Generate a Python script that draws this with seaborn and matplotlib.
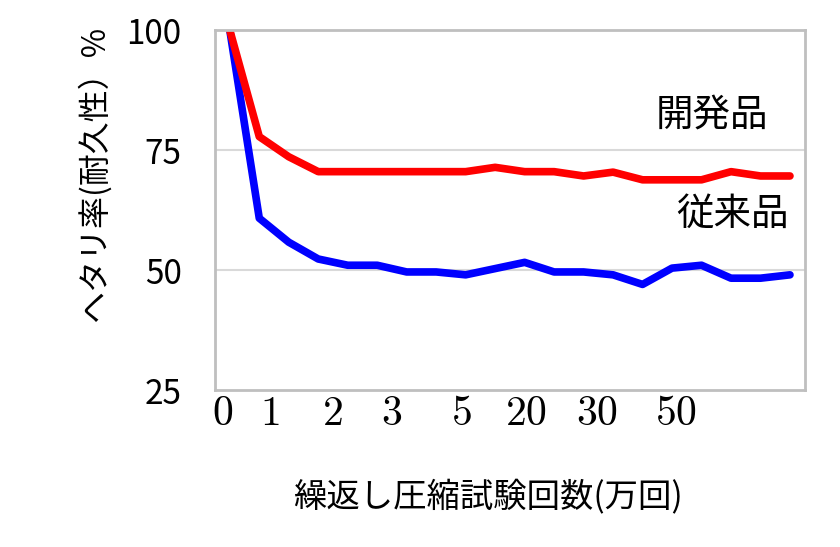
import numpy as np
import pandas as pd
import seaborn as sns
import matplotlib
matplotlib.use('Agg')
import matplotlib.pyplot as plt

# data (ヘタリ率 %)
kaihatsu = [100, 77.8, 73.6, 70.5, 70.5, 70.5, 70.5, 70.5, 70.5, 71.4, 70.5,
            70.5, 69.6, 70.4, 68.8, 68.8, 68.8, 70.5, 69.6, 69.6]
juurai = [100, 60.8, 55.8, 52.3, 51.0, 51.0, 49.6, 49.6, 49.0, 50.3, 51.6,
          49.6, 49.6, 49.0, 47.0, 50.4, 51.0, 48.3, 48.3, 49.0]
tick_pos = [-0.26, 1.36, 3.47, 5.5, 7.85, 10.05, 12.45, 15.15]
tick_labels = ['0', '1', '2', '3', '5', '20', '30', '50']
y_ticks = [25, 50, 75, 100]

df = pd.DataFrame({'step': np.arange(len(kaihatsu)),
                   '開発品': kaihatsu, '従来品': juurai})

sns.set_theme(style='white')
plt.rcParams['font.family'] = ['Noto Sans CJK JP', 'DejaVu Sans']
plt.rcParams['mathtext.fontset'] = 'cm'
plt.rcParams['text.color'] = 'black'
plt.rcParams['xtick.color'] = 'black'
plt.rcParams['ytick.color'] = 'black'
plt.rcParams['axes.labelcolor'] = 'black'

fig = plt.figure(figsize=(8.4, 5.47), dpi=100)
ax = fig.add_axes([0.256, 0.287, 0.702, 0.658])

sns.lineplot(data=df, x='step', y='従来品', color='#0000ff', lw=5.5, ax=ax)
sns.lineplot(data=df, x='step', y='開発品', color='#ff0000', lw=5.5, ax=ax)

ax.set_xlim(-0.5, 19.5)
ax.set_ylim(25, 100)
ax.set_yticks(y_ticks)
ax.set_yticklabels([str(v) for v in y_ticks], fontsize=24)
ax.set_xticks(tick_pos)
ax.set_xticklabels(['$' + t + '$' for t in tick_labels], fontsize=30)
ax.tick_params(axis='y', length=0, pad=24)
ax.tick_params(axis='x', length=0, pad=2)

for v in [50, 75]:
    ax.axhline(v, color='#d9d9d9', lw=1.5, zorder=0)

for s in ax.spines.values():
    s.set_color('#bfbfbf')
    s.set_linewidth(2)

ax.set_xlabel('繰返し圧縮試験回数(万回)', fontsize=24)
ax.xaxis.set_label_coords(0.463, -0.252)
ax.set_ylabel('ヘタリ率(耐久性）%', fontsize=23)
ax.yaxis.set_label_coords(-0.177, 0.60)

ax.text(18.25, 82.3, '開発品', fontsize=27, ha='right', va='center')
ax.text(18.95, 61.5, '従来品', fontsize=27, ha='right', va='center')

fig.savefig('out.png', dpi=100)
